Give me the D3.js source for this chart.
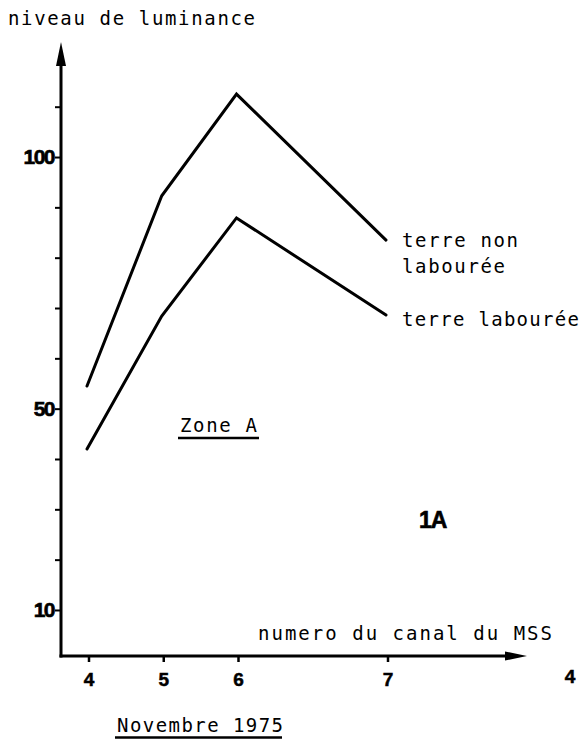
<!DOCTYPE html>
<html><head><meta charset="utf-8">
<script src="https://cdn.jsdelivr.net/npm/d3@7"></script>
<style>body{margin:0;background:#fff}svg{display:block}</style>
</head><body>
<script>
// ---- data ----
const channels = [4, 5, 6, 7];                 // MSS channel numbers
const bandCenters = [0.55, 0.65, 0.75, 0.95];  // x position (band centre, µm)
const nonLaboure = [54.5, 92.3, 112.5, 83.5];  // terre non labourée
const laboure = [42.0, 68.4, 87.9, 68.6];      // terre labourée
const yTickValues = [10, 20, 30, 40, 50, 60, 70, 80, 90, 100, 110];
const yTickLabels = [10, 50, 100];

const W = 584, H = 740;
const svg = d3.select("body").append("svg").attr("width", W).attr("height", H);

const x = d3.scaleLinear().domain([0.55, 0.95]).range([87, 386]);
const y = d3.scaleLinear().domain([0, 110]).range([660.3, 106.7]);

const axisX0 = 61, axisY0 = 656;
const mono = "'DejaVu Sans Mono', 'Liberation Mono', monospace";
const bold = "'Liberation Sans', Arial, sans-serif";

// y axis
const yAxis = d3.axisLeft(y).tickValues(yTickValues).tickSize(6)
  .tickFormat(d => yTickLabels.includes(d) ? d : "");
const gy = svg.append("g").attr("transform", `translate(${axisX0},0)`).call(yAxis);
gy.select(".domain").remove();
gy.selectAll(".tick line").attr("stroke", "#000").attr("stroke-width", 2);
gy.selectAll(".tick text").attr("font-family", bold).attr("font-weight", "bold")
  .attr("font-size", 21).attr("fill", "#000").attr("stroke", "#000").attr("stroke-width", 0.6)
  .attr("x", -7).attr("letter-spacing", -1.5);

svg.append("line").attr("x1", axisX0).attr("x2", axisX0).attr("y1", 60).attr("y2", axisY0 + 1.5)
  .attr("stroke", "#000").attr("stroke-width", 3);
svg.append("path").attr("d", `M${axisX0},42 L${axisX0 - 5},66 L${axisX0 + 5},66 Z`).attr("fill", "#000");

// x axis
const xAxis = d3.axisBottom(x).tickValues(bandCenters).tickSize(6)
  .tickFormat((d, i) => channels[i]);
const gx = svg.append("g").attr("transform", `translate(0,${axisY0})`).call(xAxis);
gx.select(".domain").remove();
gx.selectAll(".tick").attr("transform", d => `translate(${x(d) + 2},0)`);
gx.selectAll(".tick line").attr("stroke", "#000").attr("stroke-width", 2.5);
gx.selectAll(".tick text").attr("font-family", bold).attr("font-weight", "bold")
  .attr("font-size", 19).attr("fill", "#000").attr("stroke", "#000").attr("stroke-width", 0.5)
  .attr("y", 17).attr("dy", "0.71em");

svg.append("line").attr("x1", axisX0 - 1.5).attr("x2", 510).attr("y1", axisY0).attr("y2", axisY0)
  .attr("stroke", "#000").attr("stroke-width", 3);
svg.append("path").attr("d", `M527,${axisY0} L505,${axisY0 - 4.5} L505,${axisY0 + 4.5} Z`).attr("fill", "#000");

// lines
const line = d3.line().x((d, i) => x(bandCenters[i])).y(d => y(d));
[nonLaboure, laboure].forEach(s => {
  svg.append("path").attr("d", line(s)).attr("fill", "none").attr("stroke", "#000")
    .attr("stroke-width", 3).attr("stroke-linejoin", "miter").attr("stroke-linecap", "round");
});

// texts
function txt(str, tx, ty, len, opts = {}) {
  const t = svg.append("text").attr("x", tx).attr("y", ty).text(str)
    .attr("font-family", opts.family || mono).attr("font-size", opts.size || 19)
    .attr("fill", "#000");
  if (len) t.attr("textLength", len).attr("lengthAdjust", "spacing");
  if (opts.weight) t.attr("font-weight", opts.weight);
  if (opts.anchor) t.attr("text-anchor", opts.anchor);
  if (opts.ls != null) t.attr("letter-spacing", opts.ls);
  return t;
}
txt("niveau de luminance", 8, 25, 247);
txt("terre non", 402, 247, 116);
txt("labourée", 402, 273, 103);
txt("terre labourée", 402, 326, 177);
txt("Zone A", 180, 432, 77);
svg.append("line").attr("x1", 178).attr("x2", 259).attr("y1", 438).attr("y2", 438).attr("stroke", "#000").attr("stroke-width", 2.5);
txt("1A", 419, 528, null, {family: bold, weight: "bold", size: 23, ls: -1})
  .attr("stroke", "#000").attr("stroke-width", 0.6);
txt("numero du canal du MSS", 258, 640, 294);
txt("Novembre 1975", 117, 732, 166);
svg.append("line").attr("x1", 115).attr("x2", 282).attr("y1", 737.5).attr("y2", 737.5).attr("stroke", "#000").attr("stroke-width", 2.5);
txt("4", 570, 683, null, {family: bold, weight: "bold", size: 19, anchor: "middle"})
  .attr("stroke", "#000").attr("stroke-width", 0.5);
</script>
</body></html>
